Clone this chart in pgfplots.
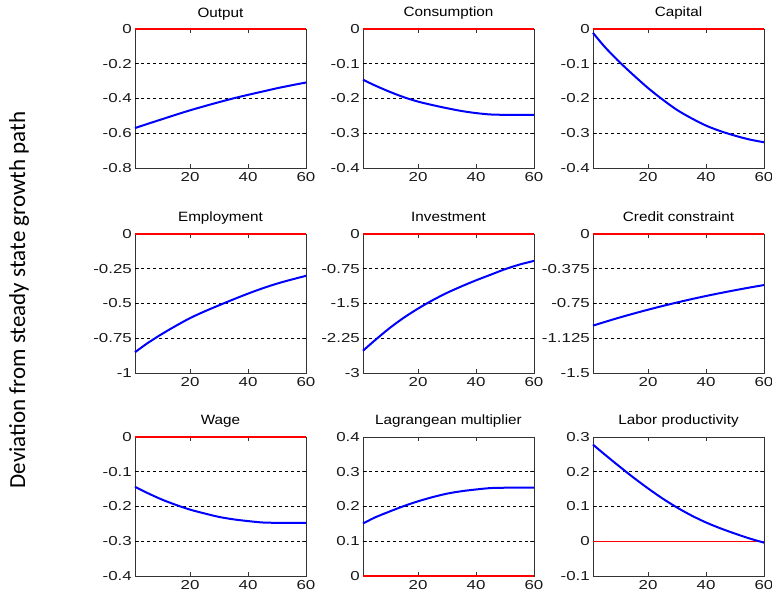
\documentclass[border=0pt]{standalone}
\usepackage{fontspec}
\setmainfont{Liberation Sans}
\newfontfamily\tickfont[FakeStretch=1.3]{Liberation Sans}
\newfontfamily\titfont[FakeStretch=1.13]{Liberation Sans}
\newfontfamily\ylabfont{Carlito}
\usepackage{pgfplots}
\pgfplotsset{compat=1.18}
\newcommand\tfont{\tickfont\fontsize{13}{15}\selectfont}
\newcommand\ttfont{\titfont\fontsize{13.5}{15}\selectfont}
\pgfplotsset{
  panel/.style={
    clip=false,
    anchor=south west, width=171pt, height=139pt, scale only axis,
    xmin=1, xmax=60, xtick={20,40,60}, xticklabels={20,40,60},
    axis line style={black!80, line width=0.9pt},
    tick align=inside, major tick length=4pt,
    tick style={black!80, line width=0.8pt},
    tick label style={font=\tfont, text=black!90},
    yticklabel style={inner sep=0pt, xshift=-3pt, anchor=east},
    xticklabel style={inner sep=0pt, yshift=-4pt, anchor=north},
    title style={font=\ttfont, anchor=base, yshift=6pt, inner sep=0pt},
  },
  gridl/.style={black, dash pattern=on 3pt off 3pt, line width=0.8pt},
  blueline/.style={blue, line width=2pt, smooth},
  redline/.style={red, line width=1.1pt},
}
\begin{document}
\begin{tikzpicture}[x=1pt,y=1pt]
\path[use as bounding box] (0,0) rectangle (772,599);
\node[rotate=90, font=\ylabfont\fontsize{23}{27}\selectfont] at (19,299) {Deviation from steady state growth path};
% Row 1
\begin{axis}[panel, at={(135pt,431pt)}, title={Output}, ymin=-0.8, ymax=0,
  ytick={-0.8,-0.6,-0.4,-0.2,0}, yticklabels={-0.8,-0.6,-0.4,-0.2,0}]
\addplot[gridl] coordinates {(1,-0.2) (60,-0.2)};
\addplot[gridl] coordinates {(1,-0.4) (60,-0.4)};
\addplot[gridl] coordinates {(1,-0.6) (60,-0.6)};
\addplot[redline] coordinates {(1,0) (60,0)};
\addplot[blueline] coordinates {(1,-0.570) (5,-0.548) (10,-0.521) (15,-0.494) (20,-0.468) (25,-0.444) (30,-0.421) (35,-0.399) (40,-0.379) (45,-0.360) (50,-0.341) (55,-0.324) (60,-0.308)};
\end{axis}
\begin{axis}[panel, at={(363pt,431pt)}, title={Consumption}, ymin=-0.4, ymax=0,
  ytick={-0.4,-0.3,-0.2,-0.1,0}, yticklabels={-0.4,-0.3,-0.2,-0.1,0}]
\addplot[gridl] coordinates {(1,-0.1) (60,-0.1)};
\addplot[gridl] coordinates {(1,-0.2) (60,-0.2)};
\addplot[gridl] coordinates {(1,-0.3) (60,-0.3)};
\addplot[redline] coordinates {(1,0) (60,0)};
\addplot[blueline] coordinates {(1,-0.146) (5,-0.162) (10,-0.180) (15,-0.196) (20,-0.209) (25,-0.219) (30,-0.228) (35,-0.236) (40,-0.242) (45,-0.246) (50,-0.247) (55,-0.247) (60,-0.247)};
\end{axis}
\begin{axis}[panel, at={(593pt,431pt)}, title={Capital}, ymin=-0.4, ymax=0,
  ytick={-0.4,-0.3,-0.2,-0.1,0}, yticklabels={-0.4,-0.3,-0.2,-0.1,0}]
\addplot[gridl] coordinates {(1,-0.1) (60,-0.1)};
\addplot[gridl] coordinates {(1,-0.2) (60,-0.2)};
\addplot[gridl] coordinates {(1,-0.3) (60,-0.3)};
\addplot[redline] coordinates {(1,0) (60,0)};
\addplot[blueline] coordinates {(1,-0.011) (5,-0.051) (10,-0.094) (15,-0.133) (20,-0.170) (25,-0.203) (30,-0.233) (35,-0.257) (40,-0.278) (45,-0.294) (50,-0.307) (55,-0.318) (60,-0.326)};
\end{axis}
% Row 2
\begin{axis}[panel, at={(135pt,226pt)}, title={Employment}, ymin=-1, ymax=0,
  ytick={-1,-0.75,-0.5,-0.25,0}, yticklabels={-1,-0.75,-0.5,-0.25,0}]
\addplot[gridl] coordinates {(1,-0.25) (60,-0.25)};
\addplot[gridl] coordinates {(1,-0.5) (60,-0.5)};
\addplot[gridl] coordinates {(1,-0.75) (60,-0.75)};
\addplot[redline] coordinates {(1,0) (60,0)};
\addplot[blueline] coordinates {(1,-0.851) (5,-0.790) (10,-0.723) (15,-0.662) (20,-0.605) (25,-0.557) (30,-0.513) (35,-0.470) (40,-0.429) (45,-0.391) (50,-0.357) (55,-0.328) (60,-0.301)};
\end{axis}
\begin{axis}[panel, at={(363pt,226pt)}, title={Investment}, ymin=-3, ymax=0,
  ytick={-3,-2.25,-1.5,-0.75,0}, yticklabels={-3,-2.25,-1.5,-0.75,0}]
\addplot[gridl] coordinates {(1,-0.75) (60,-0.75)};
\addplot[gridl] coordinates {(1,-1.5) (60,-1.5)};
\addplot[gridl] coordinates {(1,-2.25) (60,-2.25)};
\addplot[redline] coordinates {(1,0) (60,0)};
\addplot[blueline] coordinates {(1,-2.52) (5,-2.30) (10,-2.04) (15,-1.81) (20,-1.61) (25,-1.43) (30,-1.27) (35,-1.13) (40,-1.00) (45,-0.88) (50,-0.76) (55,-0.66) (60,-0.58)};
\end{axis}
\begin{axis}[panel, at={(593pt,226pt)}, title={Credit constraint}, ymin=-1.5, ymax=0,
  ytick={-1.5,-1.125,-0.75,-0.375,0}, yticklabels={-1.5,-1.125,-0.75,-0.375,0}]
\addplot[gridl] coordinates {(1,-0.375) (60,-0.375)};
\addplot[gridl] coordinates {(1,-0.75) (60,-0.75)};
\addplot[gridl] coordinates {(1,-1.125) (60,-1.125)};
\addplot[redline] coordinates {(1,0) (60,0)};
\addplot[blueline] coordinates {(1,-0.989) (5,-0.950) (10,-0.903) (15,-0.859) (20,-0.817) (25,-0.777) (30,-0.739) (35,-0.703) (40,-0.669) (45,-0.637) (50,-0.607) (55,-0.578) (60,-0.551)};
\end{axis}
% Row 3
\begin{axis}[panel, at={(135pt,23pt)}, title={Wage}, ymin=-0.4, ymax=0,
  ytick={-0.4,-0.3,-0.2,-0.1,0}, yticklabels={-0.4,-0.3,-0.2,-0.1,0}]
\addplot[gridl] coordinates {(1,-0.1) (60,-0.1)};
\addplot[gridl] coordinates {(1,-0.2) (60,-0.2)};
\addplot[gridl] coordinates {(1,-0.3) (60,-0.3)};
\addplot[redline] coordinates {(1,0) (60,0)};
\addplot[blueline] coordinates {(1,-0.1435) (5,-0.160) (10,-0.179) (15,-0.195) (20,-0.209) (25,-0.220) (30,-0.230) (35,-0.237) (40,-0.242) (45,-0.246) (50,-0.247) (55,-0.247) (60,-0.247)};
\end{axis}
\begin{axis}[panel, at={(363pt,23pt)}, title={Lagrangean multiplier}, ymin=0, ymax=0.4,
  ytick={0,0.1,0.2,0.3,0.4}, yticklabels={0,0.1,0.2,0.3,0.4}]
\addplot[gridl] coordinates {(1,0.1) (60,0.1)};
\addplot[gridl] coordinates {(1,0.2) (60,0.2)};
\addplot[gridl] coordinates {(1,0.3) (60,0.3)};
\addplot[redline] coordinates {(1,0) (60,0)};
\addplot[blueline] coordinates {(1,0.151) (5,0.168) (10,0.185) (15,0.201) (20,0.215) (25,0.227) (30,0.237) (35,0.244) (40,0.249) (45,0.253) (50,0.254) (55,0.254) (60,0.254)};
\end{axis}
\begin{axis}[panel, at={(593pt,23pt)}, title={Labor productivity}, ymin=-0.1, ymax=0.3,
  ytick={-0.1,0,0.1,0.2,0.3}, yticklabels={-0.1,0,0.1,0.2,0.3}]
\addplot[gridl] coordinates {(1,0.1) (60,0.1)};
\addplot[gridl] coordinates {(1,0.2) (60,0.2)};
\end{axis}
\begin{axis}[panel, hide axis, at={(593pt,23pt)}, ymin=-0.1, ymax=0.3]
\addplot[redline] coordinates {(1,0) (60,0)};
\addplot[blueline] coordinates {(1,0.278) (5,0.250) (10,0.216) (15,0.183) (20,0.152) (25,0.123) (30,0.097) (35,0.074) (40,0.054) (45,0.037) (50,0.022) (55,0.008) (60,-0.004)};
\end{axis}
\end{tikzpicture}
\end{document}
